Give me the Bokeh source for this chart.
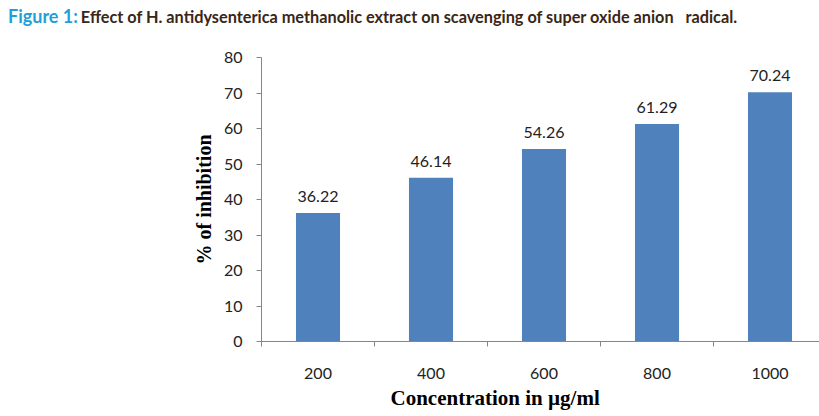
from bokeh.plotting import figure
from bokeh.models import Range1d, FixedTicker, ColumnDataSource, Title, Div
from bokeh.layouts import column
from bokeh.core.properties import value
from bokeh.embed import file_html
from bokeh.resources import INLINE

categories = ["200", "400", "600", "800", "1000"]
inhibition = [36.22, 46.14, 54.26, 61.29, 70.24]
value_labels = ["36.22", "46.14", "54.26", "61.29", "70.24"]
y_ticks = [0, 10, 20, 30, 40, 50, 60, 70, 80]
caption_head = "Figure 1:"
caption_text = "Effect of H. antidysenterica methanolic extract on scavenging of super oxide anion   radical."

W, H = 819, 416
DIV_H = 30
PH = H - DIV_H
L, T, B = 261, 57 - DIV_H, 75
frame_w = W - L
cat_px = 113.0

xpos = [i + 1 for i in range(len(categories))]
src = ColumnDataSource(dict(x=xpos, top=inhibition, lab=value_labels))

p = figure(width=W, height=PH, output_backend="svg", toolbar_location=None,
           x_range=Range1d(0.5, 0.5 + frame_w / cat_px), y_range=Range1d(0, 80),
           min_border_left=L, min_border_right=0, min_border_top=T, min_border_bottom=B,
           margin=0)
p.outline_line_color = None
p.xgrid.grid_line_color = None
p.ygrid.grid_line_color = None
p.background_fill_color = "white"
p.border_fill_color = "white"

p.vbar(x="x", top="top", width=0.39, source=src, fill_color="#4f81bd", line_color=None)
p.text(x="x", y="top", text="lab", source=src, text_align="center", text_baseline="bottom",
       y_offset=-11, text_font=value("Lato"), text_font_size="16px", text_color="#222222")

ax = p.xaxis[0]
ax.ticker = FixedTicker(ticks=xpos, minor_ticks=[0.5 + i for i in range(len(categories))])
ax.major_label_overrides = {x: c for x, c in zip(xpos, categories)}
ax.major_tick_out = 0
ax.major_tick_in = 0
ax.minor_tick_out = 5
ax.minor_tick_in = 0
ax.minor_tick_line_color = "#868686"
ax.axis_line_color = "#868686"
ax.major_label_text_font = "Lato"
ax.major_label_text_font_size = "16px"
ax.major_label_text_color = "#222222"
ax.major_label_standoff = 21

ay = p.yaxis[0]
ay.ticker = FixedTicker(ticks=y_ticks, minor_ticks=[])
ay.major_tick_out = 5
ay.major_tick_in = 0
ay.major_tick_line_color = "#868686"
ay.axis_line_color = "#868686"
ay.major_label_text_font = "Lato"
ay.major_label_text_font_size = "16px"
ay.major_label_text_color = "#222222"
ay.major_label_standoff = 14
ay.axis_label = "% of inhibition"
ay.axis_label_text_font = "Liberation Serif"
ay.axis_label_text_font_style = "bold"
ay.axis_label_text_font_size = "20px"
ay.axis_label_text_color = "#000000"
ay.axis_label_standoff = 6

xt = Title(text="Concentration in µg/ml", align="left", offset=129,
           text_font="Liberation Serif", text_font_style="bold", text_font_size="21px",
           text_color="#000000", standoff=5)
p.add_layout(xt, "below")

cap = Div(
    text=(f'<span style="color:#1fa0d8;font-size:18px;">{caption_head}</span> '
          f'<span style="color:#3a2616;font-size:16.3px;">{caption_text}</span>'),
    width=W, height=DIV_H, margin=0,
    styles={"font-family": "Lato", "font-weight": "bold", "white-space": "pre",
            "padding-left": "8px", "padding-top": "4px", "box-sizing": "border-box",
            "background-color": "white"},
)

layout = column(cap, p, spacing=0, margin=0)
open("out.html", "w").write(file_html(layout, INLINE))
